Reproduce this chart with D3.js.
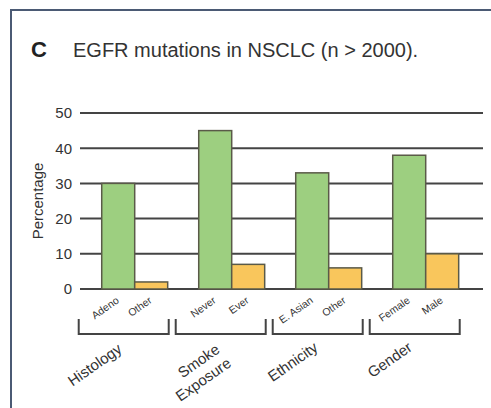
<!DOCTYPE html>
<html><head><meta charset="utf-8">
<script src="https://cdn.jsdelivr.net/npm/d3@7"></script>
<style>body{margin:0;background:#fff;} text{font-family:"Liberation Sans",Arial,sans-serif;fill:#333;}</style>
</head><body>
<svg id="c" width="491" height="408"></svg>
<script>
const groups = ["Histology", "Smoke Exposure", "Ethnicity", "Gender"];
const groupLines = [["Histology"], ["Smoke", "Exposure"], ["Ethnicity"], ["Gender"]];
const firstLabels = ["Adeno", "Never", "E. Asian", "Female"];
const secondLabels = ["Other", "Ever", "Other", "Male"];
const firstValues = [30, 45, 33, 38];
const secondValues = [2, 7, 6, 10];
const yTicks = [0, 10, 20, 30, 40, 50];

const svg = d3.select("#c");
// frame
svg.append("path").attr("d","M11,408 V10 H491").attr("fill","none").attr("stroke","#4b5a74").attr("stroke-width",2);

svg.append("text").attr("x",31).attr("y",57).attr("font-size",22).attr("font-weight","bold").style("fill","#222").text("C");
svg.append("text").attr("x",73).attr("y",57).attr("font-size",20).style("fill","#333").text("EGFR mutations in NSCLC (n > 2000).");

const y = d3.scaleLinear().domain([0,50]).range([289,113]);
const x0 = d3.scaleBand().domain(groups).range([86.2,474.2]).paddingInner(0.32).paddingOuter(0.16);
const x1 = d3.scaleBand().domain([0,1]).range([0,x0.bandwidth()]);

const gx0 = 80, gx1 = 483;
const yAxis = d3.axisLeft(y).tickValues(yTicks).tickSize(0).tickPadding(8);
const ga = svg.append("g").attr("transform",`translate(${gx0},0)`).call(yAxis);
ga.select(".domain").remove();
ga.selectAll("text").attr("font-size",15).style("fill","#333").attr("font-family","Liberation Sans, Arial, sans-serif");
svg.append("g").selectAll("line").data(yTicks).join("line")
  .attr("x1",gx0).attr("x2",gx1).attr("y1",d=>y(d)).attr("y2",d=>y(d))
  .attr("stroke","#444").attr("stroke-width",2);

svg.append("text").attr("transform",`translate(43,${(y(0)+y(50))/2}) rotate(-90)`)
  .attr("text-anchor","middle").attr("font-size",15).text("Percentage");

const data = groups.map((g,i)=>({g, vals:[firstValues[i], secondValues[i]], labs:[firstLabels[i], secondLabels[i]]}));
const colors = ["#9dcf80","#f9c65c"];
const gg = svg.append("g").selectAll("g").data(data).join("g").attr("transform",d=>`translate(${x0(d.g)},0)`);
gg.selectAll("rect").data(d=>d.vals).join("rect")
  .attr("x",(d,i)=>x1(i)).attr("width",x1.bandwidth()).attr("y",d=>y(d)).attr("height",d=>y(0)-y(d))
  .attr("fill",(d,i)=>colors[i]).attr("stroke","#5a5a48").attr("stroke-width",1.5);
gg.selectAll("text.lab").data(d=>d.labs).join("text").attr("class","lab")
  .attr("transform",(d,i)=>`translate(${x1(i)+x1.bandwidth()/2+1.5},302) rotate(-35)`)
  .attr("text-anchor","end").attr("font-size",10.5).text(d=>d);

// brackets
gg.append("path").attr("d","M-23,319 V334 H67 V319")
  .attr("fill","none").attr("stroke","#444").attr("stroke-width",2);

// group labels
const gl = gg.append("text").attr("font-size",15)
  .attr("transform",(d,i)=>`translate(${[-4,3,0,0][i]},${[369,365,366,364][i]}) rotate(-35)`)
  .attr("text-anchor","middle");
gl.selectAll("tspan").data((d,i)=>groupLines[i]).join("tspan")
  .attr("x",(d,i)=>i*-7).attr("dy",(d,i)=>i?18:0).text(d=>d);
</script>
</body></html>
